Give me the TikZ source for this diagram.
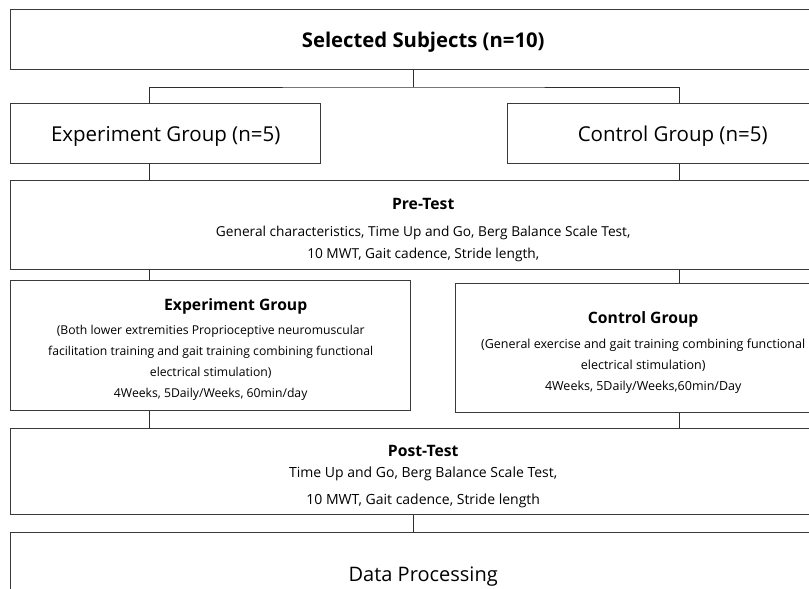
\documentclass[tikz,border=0pt]{standalone}
\usepackage{fontspec}
\setmainfont{Open Sans}
\definecolor{fbline}{HTML}{3A3A3A}
\definecolor{fblink}{HTML}{2E2E2E}
\newcommand{\titletxt}{\fontsize{20.3}{24}\selectfont\bfseries}
\newcommand{\grptxt}{\fontsize{20.5}{24}\selectfont}
\newcommand{\datatxt}{\fontsize{20}{24}\selectfont}
\newcommand{\headtxt}{\fontsize{15.7}{18}\selectfont\bfseries}
\newcommand{\pretxt}{\fontsize{13.7}{22}\selectfont}
\newcommand{\exptxt}{\fontsize{12.2}{21}\selectfont}
\newcommand{\ctltxt}{\fontsize{12.5}{21}\selectfont}
\newcommand{\posttxt}{\fontsize{14}{22}\selectfont}
\newcommand{\hd}[1]{{\headtxt\rule{0pt}{20pt}#1}}
\tikzset{
  fbox/.style={draw=fbline,line width=1.4pt,anchor=north west,inner sep=0pt,align=center,text=black},
  onebox/.style={fbox,text depth=0pt},
  link/.style={draw=fblink,line width=0.9pt},
}

\begin{document}
\begin{tikzpicture}[x=1pt,y=-1pt]
  \useasboundingbox (0,0) rectangle (809,589);
  \clip (0,0) rectangle (809,589);
  % columns of the connectors
  \coordinate (lx) at (149,0);
  \coordinate (mx) at (413,0);
  \coordinate (rx) at (679,0);
  % boxes
  \node[onebox,minimum width=825pt,minimum height=60pt,font=\titletxt] (sel) at (10,9) {Selected Subjects (n=10)};
  \node[onebox,minimum width=310pt,minimum height=60pt,font=\grptxt] (expA) at (10,103) {Experiment Group (n=5)};
  \node[onebox,minimum width=330pt,minimum height=60pt,font=\grptxt] (ctlA) at (507,103) {Control Group (n=5)};
  \node[fbox,minimum width=825pt,minimum height=89pt,font=\pretxt] (pre) at (10,180)
    {\hd{Pre-Test}\\[5pt]
     General characteristics, Time Up and Go, Berg Balance Scale Test,\\
     10 MWT, Gait cadence, Stride length,};
  \node[fbox,minimum width=400pt,minimum height=130pt,font=\exptxt] (expB) at (10,280)
    {\hd{\hspace*{50pt}Experiment Group}\\[3pt]
     (Both lower extremities Proprioceptive neuromuscular\\
     facilitation training and gait training combining functional\\
     electrical stimulation)\\
     4Weeks, 5Daily/Weeks, 60min/day};
  \node[fbox,minimum width=375pt,minimum height=129pt,font=\ctltxt] (ctlB) at (455,283)
    {\hd{Control Group}\\[4pt]
     (General exercise and gait training combining functional\\
     electrical stimulation)\\
     4Weeks, 5Daily/Weeks,60min/Day};
  \node[fbox,minimum width=825pt,minimum height=86pt,font=\posttxt] (post) at (10,428)
    {\hd{Post-Test}\\[-1pt]
     Time Up and Go, Berg Balance Scale Test,\\[5pt]
     10 MWT, Gait cadence, Stride length};
  \node[onebox,minimum width=825pt,minimum height=82pt,font=\datatxt] (data) at (10,532) {Data Processing};
  % connectors
  \coordinate (split) at (413,87);
  \draw[link] (sel.south -| mx) -- (split);
  \draw[link] (expA.north -| lx) |- (split) -| (ctlA.north -| rx);
  \foreach \a/\b/\c in {expA/pre/lx,ctlA/pre/rx,pre/expB/lx,pre/ctlB/rx,expB/post/lx,ctlB/post/rx,post/data/mx}
    {\draw[link] (\a.south -| \c) -- (\b.north -| \c);}
\end{tikzpicture}
\end{document}
